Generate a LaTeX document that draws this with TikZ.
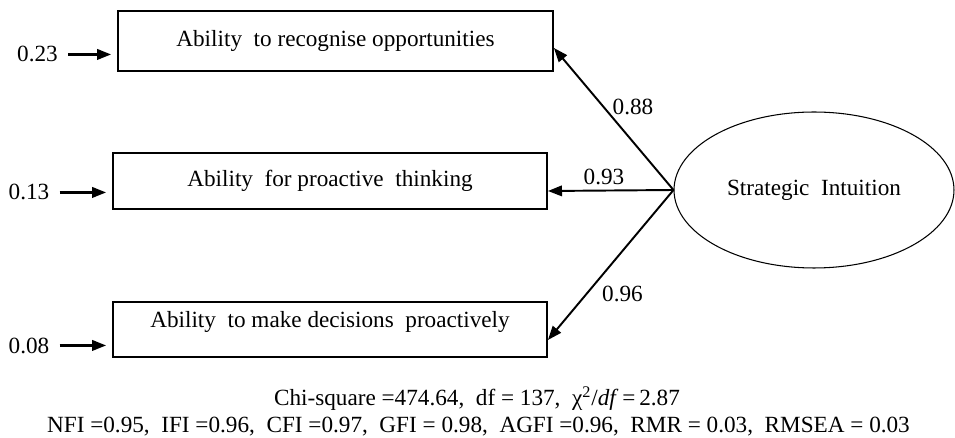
\documentclass[tikz,border=0pt]{standalone}
\usepackage{fontspec}
\setmainfont{Liberation Serif}
\usetikzlibrary{arrows.meta,shapes.geometric,positioning}

\begin{document}
\begin{tikzpicture}[x=0.02cm, y=-0.02cm,
        font=\fontsize{13.2}{15}\selectfont,
        item/.style={draw, line width=1.1pt, minimum width=8.68cm, inner sep=0pt},
        latent/.style={ellipse, draw, line width=0.6pt, minimum width=5.6cm, minimum height=3.12cm},
        load/.style={line width=1.1pt, -{Triangle[length=8pt, width=6pt]}},
        err/.style={load, line width=1.3pt, shorten <=0.2cm, shorten >=0.12cm},
        num/.style={inner sep=0pt, anchor=base}]
        \useasboundingbox (0,0) rectangle (955,438);
        % observed items
        \node[item, minimum width=8.7cm, minimum height=1.2cm] (b1) at (335.5,41) {Ability\ \ to recognise opportunities};
        \node[item, minimum height=1.12cm] (b2) at (330,181) {Ability\ \ for proactive\ \ thinking};
        \node[item, minimum height=1.1cm, text depth=11pt] (b3) at (330,329.5) {Ability\ \ to make decisions\ \ proactively};
        % latent factor
        \node[latent] (si) at (814,190) {Strategic\ \ Intuition};
        \draw[load] (si.west) -- ([yshift=-0.14cm]b1.east);
        \draw[load] (si.west) -- ([yshift=-0.2cm]b2.east);
        \draw[load] (si.west) -- ([yshift=-0.21cm]b3.east);
        \node[num] (l1) at (633,115) {0.88};
        \node[num] (l2) at (604,185) {0.93};
        \node[num] (l3) at (622.5,302) {0.96};
        % error terms
        \foreach \i/\v/\x/\y in {1/0.23/37.5/62, 2/0.13/29/200, 3/0.08/29/353}{
            \node[num] (e\i) at (\x,\y) {\v};
            \draw[err] (e\i.east) -- (e\i.east -| b\i.west);}
        % fit indices
        \node[anchor=base] (fit1) at (477,405) {Chi-square =474.64,\ \ df = 137,\ \ χ\textsuperscript{2}/\textit{df}\,=\,2.87};
        \node[anchor=base] (fit2) at (478.5,432) {NFI =0.95,\ \ IFI =0.96,\ \ CFI =0.97,\ \ GFI = 0.98,\ \ AGFI =0.96,\ \ RMR = 0.03,\ \ RMSEA = 0.03};
    \end{tikzpicture}
\end{document}
